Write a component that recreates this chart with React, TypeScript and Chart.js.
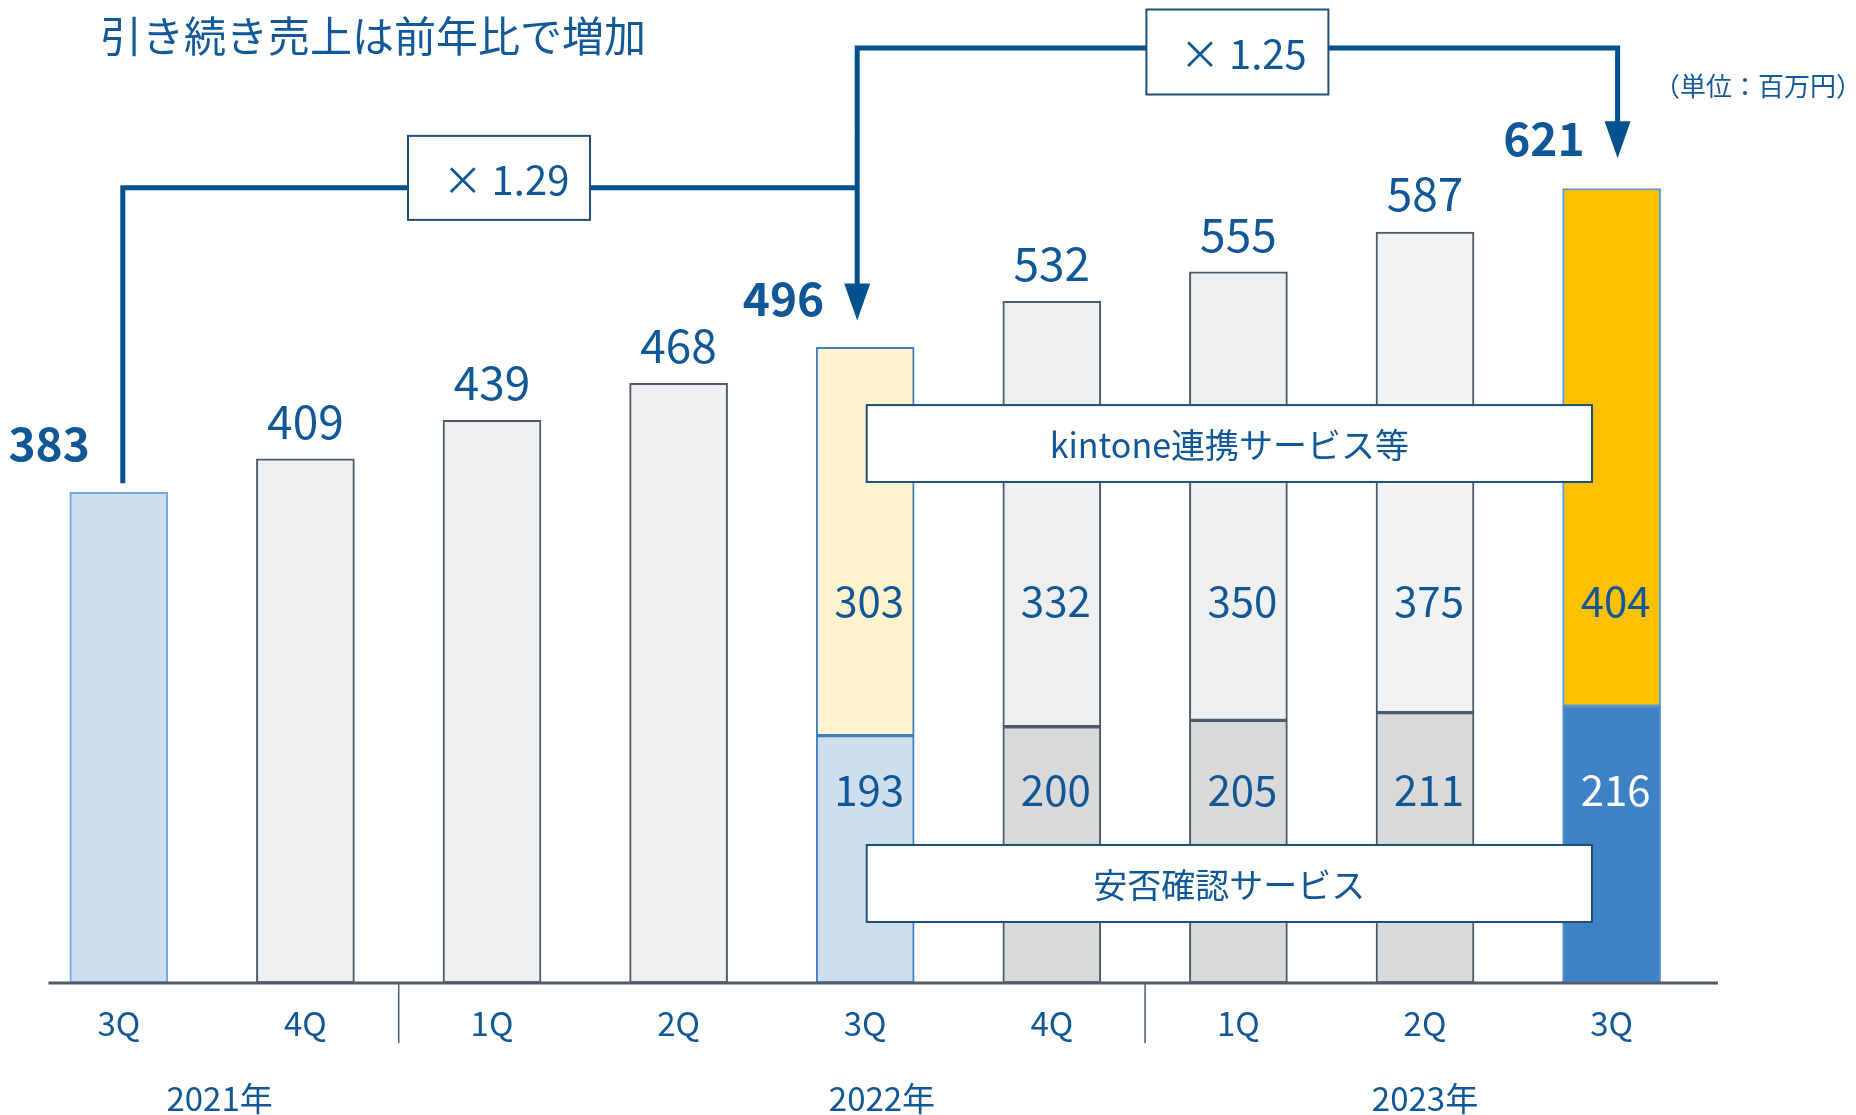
import React, { useEffect, useRef } from "react";
import { Chart, registerables } from "chart.js";

Chart.register(...registerables);

const quarters = ["3Q", "4Q", "1Q", "2Q", "3Q", "4Q", "1Q", "2Q", "3Q"];
const totalSales = [383, 409, 439, 468, 496, 532, 555, 587, 621];
const anpiSales = [null, null, null, null, 193, 200, 205, 211, 216];
const kintoneSales = [null, null, null, null, 303, 332, 350, 375, 404];
const years = ["2021年", "2022年", "2023年"];
const yearAnchors = [0.54, 4.09, 7.0];
const growthLabels = ["× 1.29", "× 1.25"];
const highlighted = [0, 4, 8];
const title = "引き続き売上は前年比で増加";
const unitLabel = "（単位：百万円）";
const anpiName = "安否確認サービス";
const kintoneName = "kintone連携サービス等";

const FONT = "'Noto Sans CJK JP', 'Noto Sans', sans-serif";
const TEXT = "#0f5796";
const LINE = "#03528f";
const DARK = "#4b5a6e";

const undivided = totalSales.map((v, i) => (anpiSales[i] == null ? v : null));

const annotations = {
  id: "annotations",
  afterDraw(chart: any) {
    const { ctx, chartArea, scales } = chart;
    const x = scales.x;
    const y = scales.y;
    const px = (i: number) => x.getPixelForValue(i);
    const py = (v: number) => y.getPixelForValue(v);
    const base = py(0);
    ctx.save();

    // axis line
    ctx.strokeStyle = "#505b6c";
    ctx.lineWidth = 3;
    ctx.beginPath();
    ctx.moveTo(chartArea.left + 23, base);
    ctx.lineTo(chartArea.right + 13, base);
    ctx.stroke();

    // year separators
    ctx.lineWidth = 1.5;
    ctx.strokeStyle = DARK;
    [1, 5].forEach((i) => {
      const sx = (px(i) + px(i + 1)) / 2;
      ctx.beginPath();
      ctx.moveTo(sx, base);
      ctx.lineTo(sx, base + 60);
      ctx.stroke();
    });

    ctx.fillStyle = TEXT;
    ctx.textAlign = "center";
    ctx.textBaseline = "middle";
    ctx.font = `33px ${FONT}`;
    quarters.forEach((q, i) => ctx.fillText(q, px(i), base + 40));
    years.forEach((yl, k) => ctx.fillText(yl, px(yearAnchors[k]), base + 115));

    // connectors geometry
    const c0 = px(0) + 4;
    const c4 = px(4) - 8;
    const c8 = px(8) + 6;
    const lineX = [c0, c4, c8];

    // total labels
    totalSales.forEach((v, i) => {
      const top = py(v);
      const h = highlighted.indexOf(i);
      if (h >= 0) {
        ctx.font = `bold 46px ${FONT}`;
        ctx.textAlign = "right";
        ctx.textBaseline = "middle";
        ctx.fillText(String(v), lineX[h] - 33, top - 49);
      } else {
        ctx.font = `46px ${FONT}`;
        ctx.textAlign = "center";
        ctx.textBaseline = "alphabetic";
        ctx.fillText(String(v), px(i), top - 20);
      }
    });

    // segment labels
    ctx.textAlign = "center";
    ctx.font = `42px ${FONT}`;
    ctx.textBaseline = "middle";
    kintoneSales.forEach((v, i) => {
      if (v == null) return;
      ctx.fillStyle = TEXT;
      ctx.fillText(String(v), px(i) + 4, py(298));
    });
    anpiSales.forEach((v, i) => {
      if (v == null) return;
      ctx.fillStyle = i === 8 ? "#ffffff" : TEXT;
      ctx.fillText(String(v), px(i) + 4, py(150.5));
    });

    // connectors
    const line1Y = py(620.5);
    const line2Y = chartArea.top - 38;
    const tip4 = py(496) - 27;
    const tip8 = py(621) - 29;
    ctx.strokeStyle = LINE;
    ctx.fillStyle = LINE;
    ctx.lineWidth = 5;
    ctx.lineJoin = "miter";
    ctx.beginPath();
    ctx.moveTo(c0, py(383) - 9);
    ctx.lineTo(c0, line1Y);
    ctx.lineTo(c4, line1Y);
    ctx.stroke();
    ctx.beginPath();
    ctx.moveTo(c4, tip4 - 30);
    ctx.lineTo(c4, line2Y);
    ctx.lineTo(c8, line2Y);
    ctx.lineTo(c8, tip8 - 30);
    ctx.stroke();
    const arrow = (cx: number, tip: number) => {
      ctx.beginPath();
      ctx.moveTo(cx - 13, tip - 37);
      ctx.lineTo(cx + 13, tip - 37);
      ctx.lineTo(cx, tip);
      ctx.closePath();
      ctx.fill();
    };
    arrow(c4, tip4);
    arrow(c8, tip8);

    const box = (cx: number, cy: number, w: number, h: number, label: string, size: number, dx: number) => {
      ctx.fillStyle = "#ffffff";
      ctx.fillRect(cx - w / 2, cy - h / 2, w, h);
      ctx.strokeStyle = "#1f4e79";
      ctx.lineWidth = 2;
      ctx.strokeRect(cx - w / 2, cy - h / 2, w, h);
      ctx.fillStyle = TEXT;
      ctx.font = `${size}px ${FONT}`;
      ctx.textAlign = "center";
      ctx.textBaseline = "middle";
      ctx.fillText(label, cx + dx, cy + 2);
    };
    box((c0 + c4) / 2 + 9, line1Y - 10, 182, 84, growthLabels[0], 40, 7);
    box((c4 + c8) / 2, line2Y + 4, 182, 85, growthLabels[1], 40, 6);

    // service boxes
    const bl = px(4) + 1.5;
    const br = px(8) - 19.6;
    const kTop = py(451);
    const kBot = py(391);
    box((bl + br) / 2, (kTop + kBot) / 2, br - bl, kBot - kTop, kintoneName, 34, 0);
    const aTop = py(107.7);
    const aBot = py(47.6);
    box((bl + br) / 2, (aTop + aBot) / 2, br - bl, aBot - aTop, anpiName, 34, 0);

    // title & unit
    ctx.fillStyle = "#12599a";
    ctx.textAlign = "left";
    ctx.textBaseline = "middle";
    ctx.font = `42px ${FONT}`;
    ctx.fillText(title, 100, 36);
    ctx.font = `26px ${FONT}`;
    ctx.textAlign = "right";
    ctx.fillText(unitLabel, 1862, 86);

    ctx.restore();
  },
};

export default function App() {
  const ref = useRef<HTMLCanvasElement>(null);
  useEffect(() => {
    if (!ref.current) return;
    const chart = new Chart(ref.current, {
      type: "bar",
      data: {
        labels: quarters,
        datasets: [
          {
            label: "売上高",
            data: undivided,
            backgroundColor: undivided.map((_, i) => (i === 0 ? "#cfdeef" : "#efefef")),
            borderColor: undivided.map((_, i) => (i === 0 ? "#6fa8dc" : DARK)),
            borderWidth: 2,
            borderSkipped: false,
            barThickness: 98,
          },
          {
            label: anpiName,
            data: anpiSales,
            backgroundColor: anpiSales.map((_, i) => (i === 4 ? "#cfdeef" : i === 8 ? "#3e82c5" : "#d9d9d9")),
            borderColor: anpiSales.map((_, i) => (i === 4 ? "#3f7fc0" : i === 8 ? "#4f8fcc" : DARK)),
            borderWidth: 2,
            borderSkipped: false,
            barThickness: 98,
          },
          {
            label: kintoneName,
            data: kintoneSales,
            backgroundColor: kintoneSales.map((_, i) =>
              i === 4 ? "#fff2cc" : i === 8 ? "#ffc000" : i === 7 ? "#f2f2f2" : "#efefef"
            ),
            borderColor: kintoneSales.map((_, i) => (i === 4 ? "#3f7fc0" : i === 8 ? "#5b9bd5" : DARK)),
            borderWidth: 2,
            borderSkipped: false,
            barThickness: 98,
          },
        ] as any,
      },
      options: {
        animation: false,
        responsive: false,
        layout: { padding: { left: 25.5, right: 151.1, top: 86, bottom: 132 } },
        plugins: { legend: { display: false }, tooltip: { enabled: false } },
        scales: {
          x: { display: false, stacked: true },
          y: { display: false, stacked: true, min: 0, max: 700 },
        },
      },
      plugins: [annotations],
    });
    return () => chart.destroy();
  }, []);
  return (
    <div style={{ position: "absolute", left: 0, top: 0, width: 1856, height: 1115, background: "#ffffff" }}>
      <canvas ref={ref} width={1856} height={1115} style={{ display: "block" }} />
    </div>
  );
}
